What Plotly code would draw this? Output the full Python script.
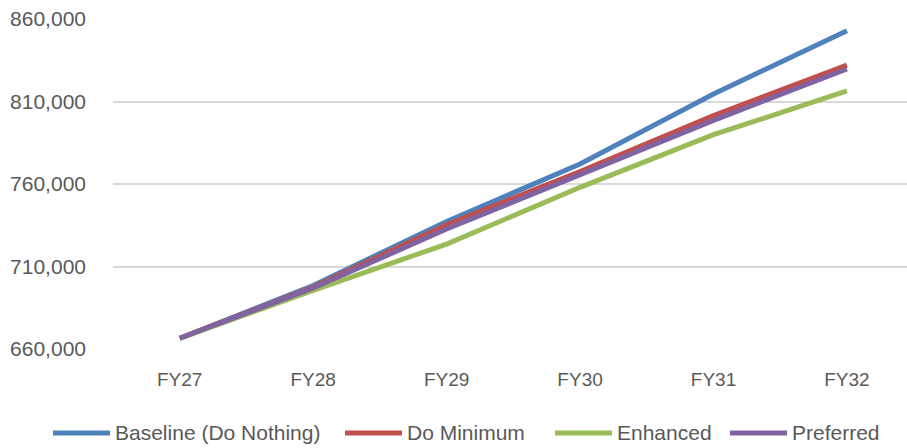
import plotly.graph_objects as go

# Fiscal years on the category axis
years = ["FY27", "FY28", "FY29", "FY30", "FY31", "FY32"]

# Projected totals per scenario
baseline = [666500, 698500, 737300, 772100, 814500, 852900]
do_minimum = [666500, 697500, 735300, 767600, 801400, 832100]
enhanced = [666500, 695500, 723600, 758000, 789900, 816400]
preferred = [666500, 697000, 732700, 765600, 798600, 829700]

y_ticks = [660000, 710000, 760000, 810000, 860000]

series_names = ["Baseline (Do Nothing)", "Do Minimum", "Enhanced", "Preferred"]
series_values = [baseline, do_minimum, enhanced, preferred]
series_colors = ["#4F81BD", "#C0504D", "#9BBB59", "#8064A2"]

font_family = "Liberation Sans, Arial, sans-serif"
text_color = "#595959"

W, H = 907, 448
M_L, M_R, M_T, M_B = 113, 0, 19, 99
plot_w = W - M_L - M_R
plot_h = H - M_T - M_B

fig = go.Figure()
for name, values, color in zip(series_names, series_values, series_colors):
    fig.add_trace(go.Scatter(
        x=years, y=values, name=name, mode="lines",
        line=dict(color=color, width=5),
        showlegend=False,
    ))

# Legend row below the axis: a colour swatch followed by the series name
def px_x(p):
    return (p - M_L) / plot_w

def px_y(p):
    return (H - M_B - p) / plot_h

legend_y = 433
swatch_starts = [53, 345, 555, 730]
swatch_len = 57
for name, color, x0 in zip(series_names, series_colors, swatch_starts):
    fig.add_shape(
        type="line", xref="paper", yref="paper",
        x0=px_x(x0), x1=px_x(x0 + swatch_len),
        y0=px_y(legend_y), y1=px_y(legend_y),
        line=dict(color=color, width=5),
    )
    fig.add_annotation(
        xref="paper", yref="paper",
        x=px_x(x0 + swatch_len + 3), y=px_y(legend_y),
        xanchor="left", yanchor="middle", showarrow=False,
        text=name,
        font=dict(family=font_family, size=21, color=text_color),
    )

fig.update_layout(
    width=W, height=H,
    margin=dict(l=M_L, r=M_R, t=M_T, b=M_B),
    paper_bgcolor="white", plot_bgcolor="white",
    font=dict(family=font_family, size=20, color=text_color),
    showlegend=False,
)

fig.update_xaxes(
    type="category", range=[-0.5, 5.45],
    showgrid=False, zeroline=False, showline=False,
    ticks="", ticklabelstandoff=17,
    tickfont=dict(family=font_family, size=19, color=text_color),
)

fig.update_yaxes(
    range=[660000, 860000], tickvals=y_ticks,
    tickformat=",d",
    showgrid=True, gridcolor="#D9D9D9", gridwidth=1.5,
    zeroline=False, showline=False, ticks="", ticklabelstandoff=26,
    tickfont=dict(family=font_family, size=21, color=text_color),
)

fig.write_html("out.html")
